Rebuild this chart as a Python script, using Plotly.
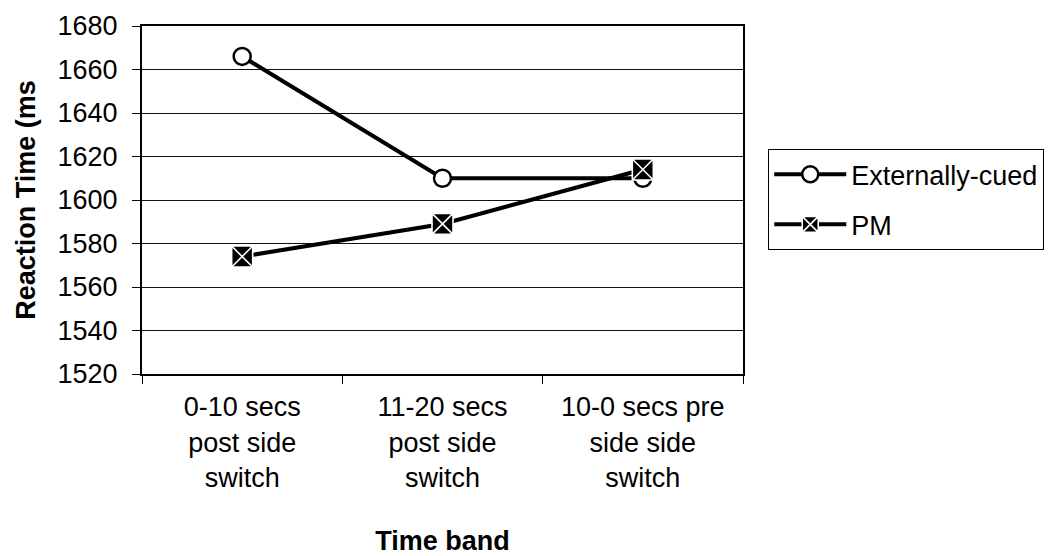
import plotly.graph_objects as go

# Time bands (x categories) and mean reaction times (ms)
categories = [
    "0-10 secs<br>post side<br>switch",
    "11-20 secs<br>post side<br>switch",
    "10-0 secs pre<br>side side<br>switch",
]
externally_cued = [1666, 1610, 1610]
pm = [1574, 1589, 1614]

y_ticks = [1520, 1540, 1560, 1580, 1600, 1620, 1640, 1660, 1680]

FONT = "Liberation Sans, Arial, sans-serif"
FS = 27

fig = go.Figure()

fig.add_trace(go.Scatter(
    x=categories, y=externally_cued, name="Externally-cued",
    legendgroup="ec", mode="lines+markers",
    line=dict(color="black", width=4),
    marker=dict(symbol="circle", size=17, color="white",
                line=dict(color="black", width=2.5)),
))

fig.add_trace(go.Scatter(
    x=categories, y=pm, name="PM",
    legendgroup="pm", mode="lines+markers",
    line=dict(color="black", width=4),
    marker=dict(symbol="square-x", size=21, color="black",
                line=dict(color="white", width=1.6)),
))

fig.update_layout(
    width=1056, height=556,
    margin=dict(l=142, r=311, t=26, b=182),
    paper_bgcolor="white", plot_bgcolor="white",
    font=dict(family=FONT, size=FS, color="black"),
    showlegend=True,
    legend=dict(
        x=1.042, y=0.646, xanchor="left", yanchor="top",
        bordercolor="black", borderwidth=1,
        font=dict(family=FONT, size=FS, color="black"),
        itemwidth=72, traceorder="grouped", tracegroupgap=12,
    ),
    xaxis=dict(
        type="category", range=[-0.5, 2.5],
        showline=True, linecolor="black", linewidth=2, mirror=True,
        ticks="outside", tickson="boundaries", ticklen=8, tickcolor="black",
        tickwidth=1,
        showgrid=False,
        automargin=False,
        ticklabelstandoff=8,
        tickfont=dict(family=FONT, size=FS),
        title=dict(text="<b>Time band</b>", standoff=40,
                   font=dict(family=FONT, size=FS)),
    ),
    yaxis=dict(
        range=[1520, 1680], tickvals=y_ticks,
        showline=True, linecolor="black", linewidth=2, mirror=True,
        ticks="outside", ticklen=8, tickcolor="black", tickwidth=1,
        showgrid=True, gridcolor="#111111", gridwidth=1,
        zeroline=False,
        automargin=False,
        ticklabelstandoff=9,
        tickfont=dict(family=FONT, size=FS),
        title=dict(text="<b>Reaction Time (ms</b>", standoff=14,
                   font=dict(family=FONT, size=FS)),
    ),
)

fig.write_html("out.html")
